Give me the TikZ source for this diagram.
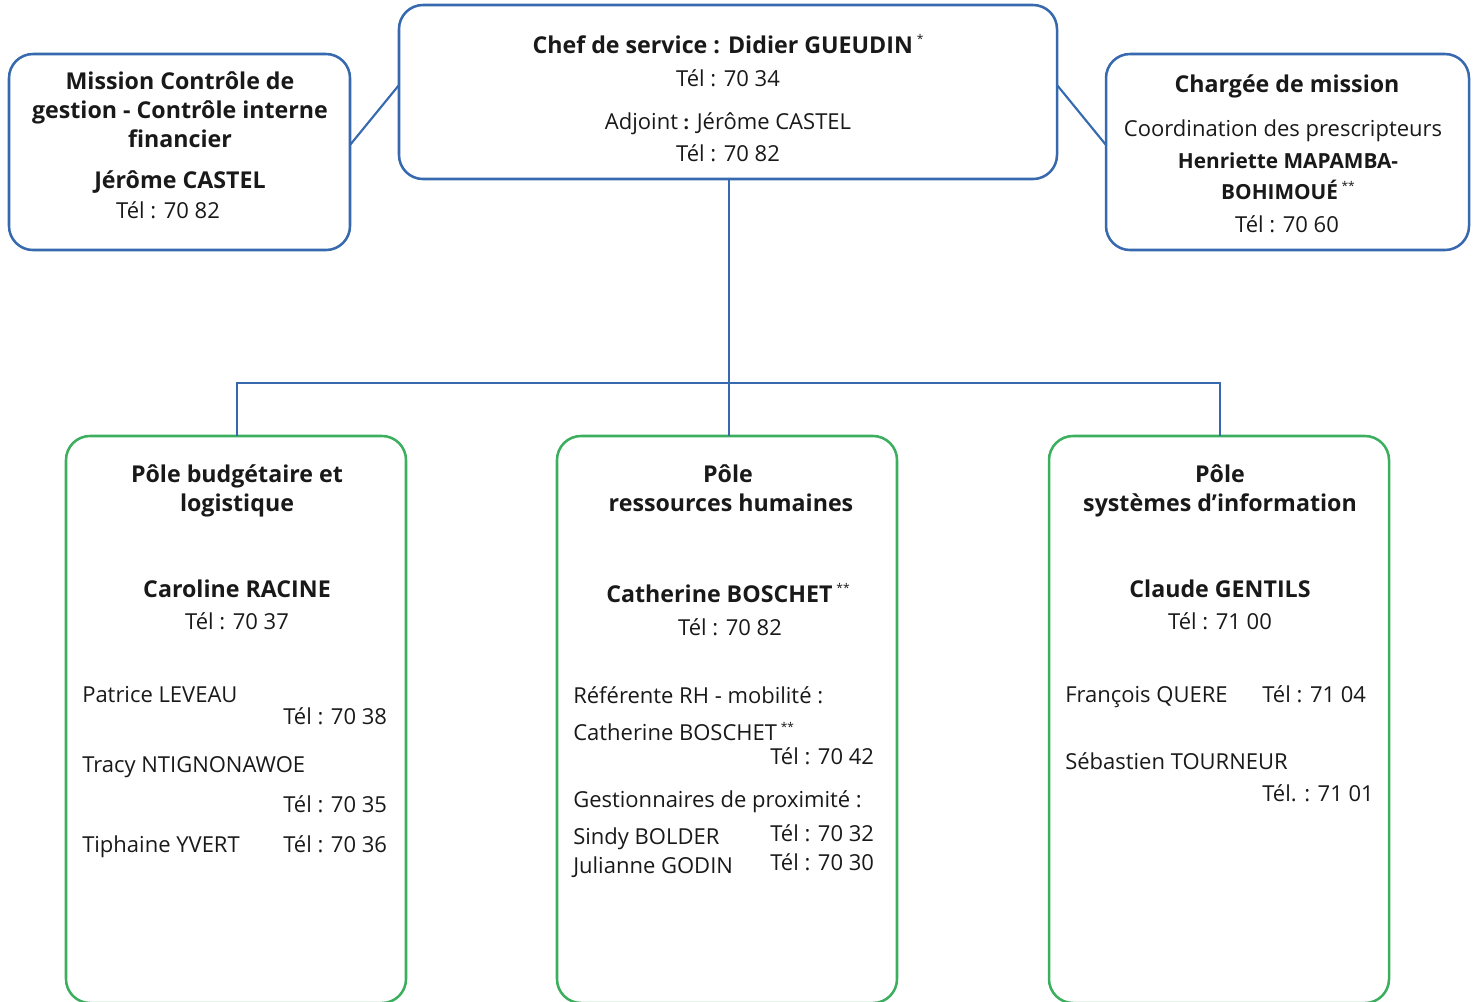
\documentclass[tikz,border=0pt]{standalone}
\usepackage{fontspec}
\setmainfont{Open Sans}
\definecolor{bleu}{RGB}{55,105,175}
\definecolor{vert}{RGB}{60,175,95}
\definecolor{txt}{RGB}{25,25,25}
\newcommand{\etoile}[1]{\,\raisebox{0.75ex}{\fontsize{9}{9}\selectfont\mdseries #1}}
\begin{document}
\begin{tikzpicture}[x=0.75pt,y=-0.75pt,
  bbox/.style={draw=bleu,line width=1.9pt,rounded corners=18pt},
  gbox/.style={draw=vert,line width=1.9pt,rounded corners=18pt},
  link/.style={draw=bleu,line width=1.6pt},
  T/.style={inner sep=0pt,anchor=mid,yshift=-3.5pt,text=txt,font=\fontsize{17.4}{20}\selectfont\bfseries},
  N/.style={inner sep=0pt,anchor=mid,yshift=-3.5pt,text=txt,font=\fontsize{16.5}{20}\selectfont},
  L/.style={N,anchor=mid west}]
\useasboundingbox (0,0) rectangle (1476,1001);
% boxes
\draw[bbox] (399,5) rectangle (1057,179);
\node[inner sep=0pt] (chef) at (728,92) [minimum width=658*0.75pt, minimum height=174*0.75pt] {};
\draw[bbox] (9,54) rectangle (350,250);
\node[inner sep=0pt] (miss) at (179.5,152) [minimum width=341*0.75pt, minimum height=196*0.75pt] {};
\draw[bbox] (1106,54) rectangle (1469,250);
\node[inner sep=0pt] (charg) at (1287.5,152) [minimum width=363*0.75pt, minimum height=196*0.75pt] {};
\draw[gbox] (66,436) rectangle (406,1003);
\draw[gbox] (557,436) rectangle (897,1003);
\draw[gbox] (1049,436) rectangle (1389,1003);
\coordinate (b1) at (237,436);
\coordinate (b2) at (729,436);
\coordinate (b3) at (1220,436);
\coordinate (ctop) at (729,179);
\coordinate (ml) at (350,145);
\coordinate (cl) at (399,85);
\coordinate (cr) at (1057,85);
\coordinate (gl) at (1106,145);
% connectors
\draw[link] (ml) -- (cl);
\draw[link] (cr) -- (gl);
\draw[link] (ctop) -- (b2);
\draw[link] (b1) -- (237,383) -| (b3);
% chef
\node[T] (c1) at (728,45) {Chef de service : Didier GUEUDIN\etoile{*}};
\node[N] (c2) at (728,78) {Tél : 70 34};
\node[N] (c3) at (728,121) {Adjoint {\bfseries\Large:} Jérôme CASTEL};
\node[N] (c4) at (728,153) {Tél : 70 82};
% mission
\node[T] (m1) at (180,81) {Mission Contrôle de};
\node[T] (m2) at (180,110) {gestion - Contrôle interne};
\node[T] (m3) at (180,139) {financier};
\node[T] (m4) at (180,180) {Jérôme CASTEL};
\node[N] (m5) at (168,210) {Tél : 70 82};
% chargee
\node[T] (h1) at (1287,84) {Chargée de mission};
\node[N] (h2) at (1283,128) {Coordination des prescripteurs};
\node[T,font=\fontsize{15.6}{18}\selectfont\bfseries] (h3) at (1288,160) {Henriette MAPAMBA-};
\node[T,font=\fontsize{15.6}{18}\selectfont\bfseries] (h4) at (1288,191) {BOHIMOUÉ\etoile{**}};
\node[N] (h5) at (1287,224) {Tél : 70 60};
% box 1
\node[T] (p11) at (237,474) {Pôle budgétaire et};
\node[T] (p12) at (237,503) {logistique};
\node[T] (p13) at (237,589) {Caroline RACINE};
\node[N] (p14) at (237,621) {Tél : 70 37};
\node[L] (p15) at (82,694) {Patrice LEVEAU};
\node[L] (p16) at (283,716) {Tél : 70 38};
\node[L] (p17) at (82,764) {Tracy NTIGNONAWOE};
\node[L] (p18) at (283,804) {Tél : 70 35};
\node[L] (p19) at (82,844) {Tiphaine YVERT};
\node[L] (p110) at (283,844) {Tél : 70 36};
% box 2
\node[T] (p21) at (728,474) {Pôle};
\node[T] (p22) at (731,503) {ressources humaines};
\node[T] (p23) at (728,594) {Catherine BOSCHET\etoile{**}};
\node[N] (p24) at (730,627) {Tél : 70 82};
\node[L] (p25) at (573,695) {Référente RH - mobilité :};
\node[L] (p26) at (573,732) {Catherine BOSCHET\etoile{**}};
\node[L] (p27) at (770,756) {Tél : 70 42};
\node[L] (p28) at (573,799) {Gestionnaires de proximité :};
\node[L] (p29) at (573,836) {Sindy BOLDER};
\node[L] (p210) at (770,833) {Tél : 70 32};
\node[L] (p211) at (573,865) {Julianne GODIN};
\node[L] (p212) at (770,862) {Tél : 70 30};
% box 3
\node[T] (p31) at (1220,474) {Pôle};
\node[T] (p32) at (1220,503) {systèmes d{\char"0027}information};
\node[T] (p33) at (1220,589) {Claude GENTILS};
\node[N] (p34) at (1220,621) {Tél : 71 00};
\node[L] (p35) at (1065,694) {François QUERE};
\node[L] (p36) at (1262,694) {Tél : 71 04};
\node[L] (p37) at (1065,761) {Sébastien TOURNEUR};
\node[L] (p38) at (1262,793) {Tél. : 71 01};
\end{tikzpicture}
\end{document}
